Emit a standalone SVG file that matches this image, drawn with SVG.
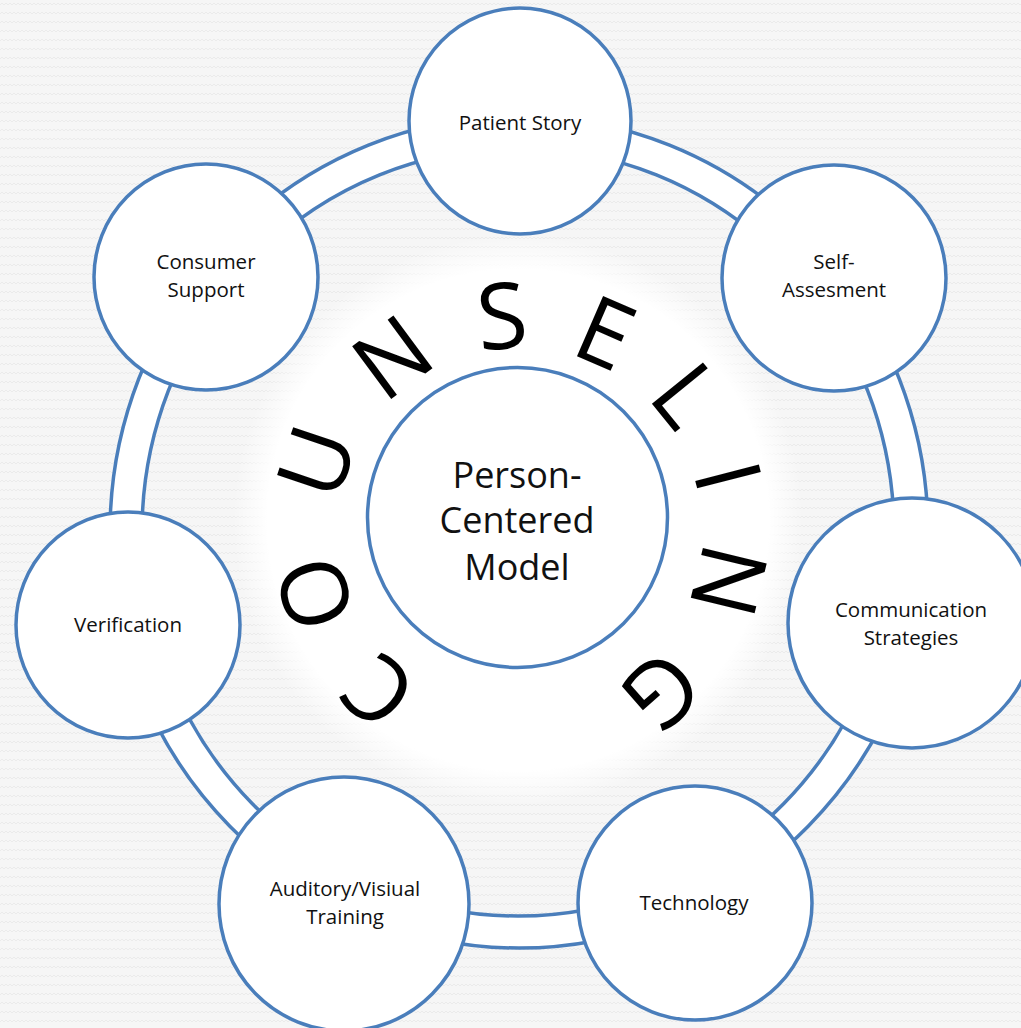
<svg xmlns="http://www.w3.org/2000/svg" width="1021" height="1028" viewBox="0 0 1021 1028">
  <defs>
    <pattern id="bgwave" patternUnits="userSpaceOnUse" width="8" height="9">
      <rect width="8" height="9" fill="#f6f6f6"/>
      <path d="M0 5 L2 3 L4 5 L6 3 L8 5" fill="none" stroke="#ebebeb" stroke-width="1"/>
    </pattern>
    <radialGradient id="glow" gradientUnits="userSpaceOnUse" cx="518" cy="520" r="285">
      <stop offset="0" stop-color="#ffffff" stop-opacity="1"/>
      <stop offset="0.88" stop-color="#ffffff" stop-opacity="1"/>
      <stop offset="1" stop-color="#ffffff" stop-opacity="0"/>
    </radialGradient>
    <style>
      .node { fill: #ffffff; stroke: #4a7ebb; stroke-width: 3.5; }
      .ring { fill: #ffffff; stroke: #4a7ebb; stroke-width: 3.5; fill-rule: evenodd; }
      .lbl { font-family: "Open Sans", "Liberation Sans", sans-serif; font-size: 20.5px; fill: #111111; text-anchor: middle; }
      .center { font-family: "Open Sans", "Liberation Sans", sans-serif; font-size: 36px; fill: #111111; text-anchor: middle; }
      .big { font-family: "Open Sans", "Liberation Sans", sans-serif; font-size: 92px; fill: #000000; text-anchor: middle; }
    </style>
  </defs>

  <rect width="1021" height="1028" fill="url(#bgwave)"/>
  <rect width="1021" height="1028" fill="url(#glow)"/>

  <g id="connectors">
    <path class="ring" d="M110 532 A409 416 0 1 0 928 532 A409 416 0 1 0 110 532 Z M142 532 A376 384 0 1 0 894 532 A376 384 0 1 0 142 532 Z"/>
  </g>

  <g id="node-patient-story">
    <ellipse class="node" cx="520" cy="121" rx="111" ry="113"/>
    <text class="lbl" x="520" y="130">Patient Story</text>
  </g>
  <g id="node-self-assesment">
    <ellipse class="node" cx="834" cy="278" rx="112" ry="113"/>
    <text class="lbl" x="834" y="269">Self-</text>
    <text class="lbl" x="834" y="297">Assesment</text>
  </g>
  <g id="node-communication-strategies">
    <ellipse class="node" cx="912" cy="623" rx="124" ry="125"/>
    <text class="lbl" x="911" y="617">Communication</text>
    <text class="lbl" x="911" y="645">Strategies</text>
  </g>
  <g id="node-technology">
    <ellipse class="node" cx="695" cy="903" rx="117" ry="117"/>
    <text class="lbl" x="694" y="910">Technology</text>
  </g>
  <g id="node-auditory-visual-training">
    <ellipse class="node" cx="344" cy="904" rx="125" ry="127"/>
    <text class="lbl" x="345" y="896">Auditory/Visiual</text>
    <text class="lbl" x="345" y="924">Training</text>
  </g>
  <g id="node-verification">
    <ellipse class="node" cx="128" cy="625" rx="112" ry="113"/>
    <text class="lbl" x="128" y="632">Verification</text>
  </g>
  <g id="node-consumer-support">
    <ellipse class="node" cx="206" cy="277" rx="112" ry="113"/>
    <text class="lbl" x="206" y="269">Consumer</text>
    <text class="lbl" x="206" y="297">Support</text>
  </g>

  <g id="node-person-centered-model">
    <circle class="node" cx="517.5" cy="517.5" r="150"/>
    <text class="center" x="517" y="488">Person-</text>
    <text class="center" x="517" y="533">Centered</text>
    <text class="center" x="517" y="580">Model</text>
  </g>

  <g id="counseling">
    <text class="big" x="520" y="348" transform="rotate(-138.8 520 530)">C</text>
    <text class="big" x="520" y="348" transform="rotate(-107.2 520 530)">O</text>
    <text class="big" x="520" y="348" transform="rotate(-71.4 520 530)">U</text>
    <text class="big" x="520" y="348" transform="rotate(-36.5 520 530)">N</text>
    <text class="big" x="520" y="348" transform="rotate(-4.8 520 530)">S</text>
    <text class="big" x="520" y="348" transform="rotate(23.4 520 530)">E</text>
    <text class="big" x="520" y="348" transform="rotate(51 520 530)">L</text>
    <text class="big" x="520" y="348" transform="rotate(75.6 520 530)">I</text>
    <text class="big" x="520" y="348" transform="rotate(103.6 520 530)">N</text>
    <text class="big" x="520" y="348" transform="rotate(138.7 520 530)">G</text>
  </g>
</svg>
